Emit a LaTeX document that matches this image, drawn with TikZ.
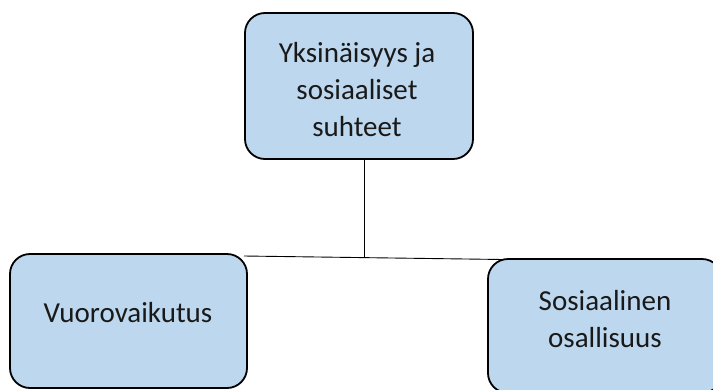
\documentclass[tikz,border=0pt]{standalone}
\usepackage{fontspec}
\setmainfont{Carlito}
\definecolor{boxfill}{RGB}{189,215,238}
\tikzset{
  topicbox/.style={draw=black, line width=1.8pt, fill=boxfill, rounded corners=20pt, inner sep=0pt},
  topictext/.style={font=\fontsize{29}{37}\selectfont, align=center, text=black!90, inner sep=0pt},
  link/.style={draw=black, line width=0.9pt}
}
\begin{document}
\begin{tikzpicture}[x=1pt, y=-1pt]
  \useasboundingbox (0,0) rectangle (713,389);
  \clip (0,0) rectangle (713,389);
  % boxes
  \node[topicbox, minimum width=228pt, minimum height=146pt] (top) at (359,86) {};
  \node[topicbox, minimum width=237pt, minimum height=134pt] (left) at (128.5,321) {};
  \node[topicbox, minimum width=234pt, minimum height=134pt] (right) at (605,326) {};
  % labels
  \node[topictext] (toptext) at (357,90) {Yksinäisyys ja\\sosiaaliset\\suhteet};
  \node[topictext] (lefttext) at (128,313) {Vuorovaikutus};
  \node[topictext] (righttext) at (605,319.5) {Sosiaalinen\\osallisuus};
  % connectors
  \coordinate (junction) at (364,257.5);
  \coordinate (hl) at (244,256);
  \coordinate (hr) at (503,259.5);
  \draw[link] (top.south -| junction) -- (junction);
  \draw[link] (hl) -- (hr);
\end{tikzpicture}
\end{document}
